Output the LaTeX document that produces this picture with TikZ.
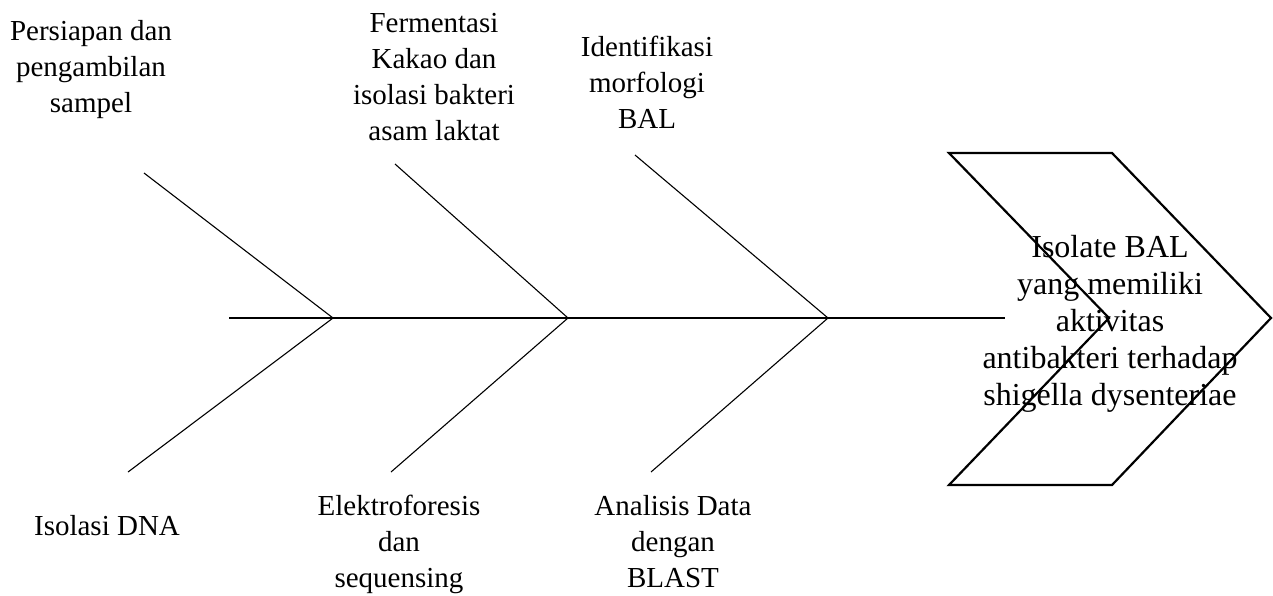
\documentclass[tikz,border=0pt]{standalone}
\usepackage{fontspec}
\setmainfont{Liberation Serif}
\begin{document}
\begin{tikzpicture}[x=1pt,y=-1pt,
  bone/.style={line width=1.1pt,black},
  spine/.style={line width=1.4pt,black},
  chev/.style={line width=2.2pt,black,line join=miter},
  lbl/.style={inner sep=0pt,anchor=north,align=center,font=\fontsize{29}{36}\selectfont},
  headlbl/.style={inner sep=0pt,anchor=north,align=center,font=\fontsize{32}{37}\selectfont}]
\useasboundingbox (0,0) rectangle (1273,595);
% spine and bones
\coordinate (s0) at (229,318);
\coordinate (s1) at (1005,318);
\coordinate (j1) at (333,318);
\coordinate (j2) at (568,318);
\coordinate (j3) at (828,318);
\coordinate (b1u) at (144,173);
\coordinate (b1l) at (128,472);
\coordinate (b2u) at (395,164);
\coordinate (b2l) at (391,472);
\coordinate (b3u) at (635,155);
\coordinate (b3l) at (651,472);
\draw[spine] (s0) -- (s1);
\draw[bone] (b1u) -- (j1) -- (b1l);
\draw[bone] (b2u) -- (j2) -- (b2l);
\draw[bone] (b3u) -- (j3) -- (b3l);
% chevron head
\coordinate (c1) at (949,153);
\coordinate (c2) at (1112,153);
\coordinate (c3) at (1271,318);
\coordinate (c4) at (1112,485);
\coordinate (c5) at (949,485);
\coordinate (c6) at (1109,318);
\draw[chev] (c1) -- (c2) -- (c3) -- (c4) -- (c5) -- (c6) -- cycle;
\node[headlbl] (head) at (1110,235) {Isolate BAL\\yang memiliki\\aktivitas\\antibakteri terhadap\\shigella dysenteriae};
% labels
\node[lbl] (l1) at (91,20) {Persiapan dan\\pengambilan\\sampel};
\node[lbl] (l2) at (434,13) {Fermentasi\\Kakao dan\\isolasi bakteri\\asam laktat};
\node[lbl] (l3) at (647,36) {Identifikasi\\morfologi\\BAL};
\node[lbl] (l4) at (107,515) {Isolasi DNA};
\node[lbl] (l5) at (399,495) {Elektroforesis\\dan\\sequensing};
\node[lbl] (l6) at (673,495) {Analisis Data\\dengan\\BLAST};
\end{tikzpicture}
\end{document}
